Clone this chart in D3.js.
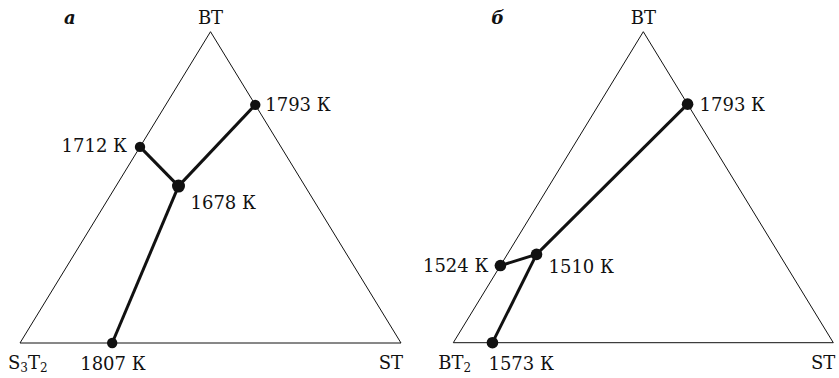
<!DOCTYPE html>
<html>
<head>
<meta charset="utf-8">
<script src="https://cdn.jsdelivr.net/npm/d3@7"></script>
<style>
  body { margin: 0; background: #fff; }
  svg text { font-family: "DejaVu Serif", serif; font-size: 18px; fill: #111; }
</style>
</head>
<body>
<svg width="839" height="378"></svg>
<script>
// compositions as fractions: bt = BT (top vertex), st = ST (right vertex)
const panels = ['а', 'б'];
const leftVertex = [['S', '3', 'T', '2'], ['BT', '2']];
const pointsA = [
    {name: '1793 К', bt: 0.765, st: 0.235},
    {name: '1712 К', bt: 0.630, st: 0.0},
    {name: '1678 К', bt: 0.504, st: 0.164},
    {name: '1807 К', bt: 0.0,   st: 0.242}
];
const pointsB = [
    {name: '1793 К', bt: 0.767, st: 0.233},
    {name: '1524 К', bt: 0.248, st: 0.0},
    {name: '1510 К', bt: 0.284, st: 0.077},
    {name: '1573 К', bt: 0.0,   st: 0.103}
];
// lines join each point to the invariant point (index 2)
const linksA = [[1, 2], [0, 2], [2, 3]];
const linksB = [[1, 2], [0, 2], [2, 3]];

var svg = d3.select('svg');

var layouts = [
    {x0: 20, x1: 401, yb: 343, yt: 31.7, pts: pointsA, links: linksA,
     labels: [{dx: 10, dy: 6, a: 'start'}, {dx: -13, dy: 5, a: 'end'}, {dx: 12, dy: 23, a: 'start'}, {dx: -32, dy: 27, a: 'start'}],
     big: 2},
    {x0: 453.3, x1: 833.3, yb: 342.7, yt: 31.7, pts: pointsB, links: linksB,
     labels: [{dx: 12, dy: 7, a: 'start'}, {dx: -12, dy: 6, a: 'end'}, {dx: 12, dy: 19, a: 'start'}, {dx: -4, dy: 27, a: 'start'}],
     big: -1}
];

layouts.forEach(function(L, i) {
    var x = d3.scaleLinear().domain([0, 1]).range([L.x0, L.x1]);
    var y = d3.scaleLinear().domain([0, 1]).range([L.yb, L.yt]);
    var px = d => x(d.st + d.bt / 2), py = d => y(d.bt);
    var g = svg.append('g');

    var corners = [{bt: 0, st: 0}, {bt: 0, st: 1}, {bt: 1, st: 0}];
    g.append('path')
        .attr('d', d3.line().x(px).y(py)(corners) + 'Z')
        .attr('fill', 'none')
        .attr('stroke', '#111')
        .attr('stroke-width', 1);

    L.links.forEach(function(l) {
        g.append('path')
            .attr('d', d3.line().x(px).y(py)([L.pts[l[0]], L.pts[l[1]]]))
            .attr('stroke', '#111')
            .attr('stroke-width', 3)
            .attr('fill', 'none');
    });

    g.selectAll('circle').data(L.pts).enter().append('circle')
        .attr('cx', px).attr('cy', py)
        .attr('r', (d, j) => j === L.big ? 6.5 : (i === 0 ? 5.2 : 5.8))
        .attr('fill', '#111');

    g.selectAll('text.pt').data(L.pts).enter().append('text')
        .attr('class', 'pt')
        .attr('x', (d, j) => px(d) + L.labels[j].dx)
        .attr('y', (d, j) => py(d) + L.labels[j].dy)
        .attr('text-anchor', (d, j) => L.labels[j].a)
        .text(d => d.name);

    // vertices
    g.append('text').attr('x', x(0.5)).attr('y', L.yt - 8)
        .attr('text-anchor', 'middle').text('BT');
    g.append('text').attr('x', x(1) + 2).attr('y', 369)
        .attr('text-anchor', 'end').text('ST');
    var lv = g.append('text').attr('x', x(0) - (i === 0 ? 12 : 15)).attr('y', 369);
    var parts = leftVertex[i];
    for (var k = 0; k < parts.length; k += 2) {
        lv.append('tspan').attr('dy', k === 0 ? 0 : -3).text(parts[k]);
        lv.append('tspan').attr('dy', 3).style('font-size', '12px').text(parts[k + 1]);
    }

    g.append('text').attr('x', x(0) + (i === 0 ? 44 : 38)).attr('y', 24)
        .style('font-weight', 'bold').style('font-style', 'italic').style('font-size', '18px')
        .text(panels[i]);
});
</script>
</body>
</html>
